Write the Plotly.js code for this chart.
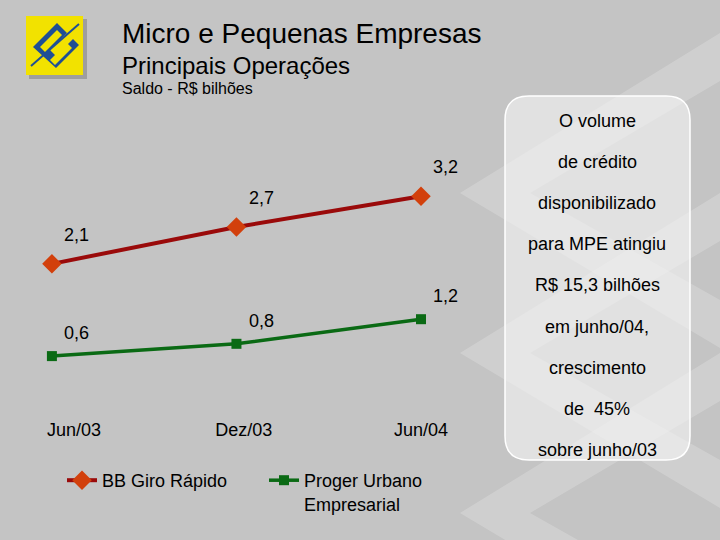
<!DOCTYPE html>
<html>
<head>
<meta charset="utf-8">
<script src="https://cdn.plot.ly/plotly-3.0.1.min.js"></script>
<style>html,body{margin:0;padding:0;background:#c4c4c4;}#chart{width:720px;height:540px;}</style>
</head>
<body>
<div id="chart"></div>
<script>
// ---- data ----
const categories = ["Jun/03", "Dez/03", "Jun/04"];
const seriesNames = ["BB Giro Rápido", "Proger Urbano<br>Empresarial"];
const giroRapido = [2.1, 2.7, 3.2];
const progerUrbano = [0.6, 0.8, 1.2];
const boxLines = ["O volume", "de crédito", "disponibilizado", "para MPE atingiu",
  "R$ 15,3 bilhões", "em junho/04,", "crescimento", "de \u00a045%", "sobre junho/03"];

// ---- layout geometry (pixels) ----
const L = 15, R = 220, T = 150, B = 123, W = 720 - L - R, H = 540 - T - B;
const PX = p => (p - L) / W;
const PY = p => (T + H - p) / H;
const FONT = "Arial, Liberation Sans, sans-serif";
const xIdx = categories.map((c, i) => i);
const tickPos = [0.12, 1.04, 2];

const fmt = v => v.toFixed(1).replace(".", ",");

function poly(pts, fill) {
  return {type: "path", xref: "paper", yref: "paper", layer: "below",
    path: "M" + pts.map(p => PX(p[0]) + "," + PY(p[1])).join(" L") + " Z",
    fillcolor: fill, line: {width: 0}};
}
function chevron(tipY, fill) {
  const tx = 460, th = 70;
  return poly([[tx, tipY], [720, tipY - 160], [720, tipY - 160 + 48], [tx + th, tipY],
    [720, tipY + 155 - 48], [720, tipY + 155]], fill);
}
function roundRect(x0, y0, x1, y1, r) {
  const P = (x, y) => PX(x) + "," + PY(y);
  return "M" + P(x0 + r, y0) + " L" + P(x1 - r, y0) + " Q" + P(x1, y0) + " " + P(x1, y0 + r) +
    " L" + P(x1, y1 - r) + " Q" + P(x1, y1) + " " + P(x1 - r, y1) +
    " L" + P(x0 + r, y1) + " Q" + P(x0, y1) + " " + P(x0, y1 - r) +
    " L" + P(x0, y0 + r) + " Q" + P(x0, y0) + " " + P(x0 + r, y0) + " Z";
}

const band = "rgba(255,255,255,0.2)";
const shapes = [
  // background watermark chevrons
  chevron(193, band),
  chevron(353, band),
  chevron(513, band),
  // logo shadow + yellow square
  poly([[29,19],[87,19],[87,79],[29,79]], "rgba(90,90,90,0.35)"),
  poly([[26,16],[83,16],[83,75],[26,75]], "#f2e200"),
  // logo blue pattern
  poly([[33,47],[57,23],[67,33],[50,50],[56,56],[73,39],[79,45],[56,68]], "#1f4f95"),
  poly([[40,47],[57,30],[62,35],[45,52]], "#f2e200"),
  poly([[50,60],[67,43],[72,48],[55,65]], "#f2e200"),
  {type: "line", xref: "paper", yref: "paper", layer: "below",
    x0: PX(31), y0: PY(66), x1: PX(79), y1: PY(24), line: {color: "#1f4f95", width: 2}},
  // text box
  {type: "path", xref: "paper", yref: "paper", layer: "below",
    path: roundRect(505, 96, 690, 460, 24),
    fillcolor: "rgba(245,245,245,0.6)", line: {color: "#ffffff", width: 1.5}}
];

const annotations = [
  {xref: "paper", yref: "paper", x: PX(120), y: PY(33), xanchor: "left", yanchor: "middle",
    text: "Micro e Pequenas Empresas", showarrow: false, font: {family: FONT, size: 28, color: "#000"}},
  {xref: "paper", yref: "paper", x: PX(120), y: PY(65), xanchor: "left", yanchor: "middle",
    text: "Principais Operações", showarrow: false, font: {family: FONT, size: 24, color: "#000"}},
  {xref: "paper", yref: "paper", x: PX(120), y: PY(88), xanchor: "left", yanchor: "middle",
    text: "Saldo - R$ bilhões", showarrow: false, font: {family: FONT, size: 16, color: "#000"}}
];
boxLines.forEach((t, i) => annotations.push({
  xref: "paper", yref: "paper", x: PX(597), y: PY(121 + i * 41.1), xanchor: "center", yanchor: "middle",
  text: t, showarrow: false, font: {family: FONT, size: 18, color: "#000"}}));
giroRapido.forEach((v, i) => annotations.push({
  x: xIdx[i], y: v, text: fmt(v), showarrow: false, xshift: 25, yshift: 29,
  font: {family: FONT, size: 18, color: "#000"}}));
progerUrbano.forEach((v, i) => annotations.push({
  x: xIdx[i], y: v, text: fmt(v), showarrow: false, xshift: 25, yshift: 23,
  font: {family: FONT, size: 18, color: "#000"}}));

const traces = [
  {x: xIdx, y: giroRapido, name: seriesNames[0], type: "scatter", mode: "lines+markers",
    line: {color: "#9a0a0a", width: 4},
    marker: {symbol: "diamond", size: 15, color: "#d2400c"}},
  {x: xIdx, y: progerUrbano, name: seriesNames[1], type: "scatter", mode: "lines+markers",
    line: {color: "#0a6a14", width: 3.5},
    marker: {symbol: "square", size: 10, color: "#0a6a14"}}
];

const layout = {
  width: 720, height: 540,
  margin: {l: L, r: R, t: T, b: B, pad: 0},
  paper_bgcolor: "#c4c4c4", plot_bgcolor: "rgba(0,0,0,0)",
  separators: ", ",
  showlegend: true,
  font: {family: FONT, size: 18, color: "#000"},
  xaxis: {range: [-0.2, 2 + 79 / 184.5], tickvals: tickPos, ticktext: categories,
    showgrid: false, zeroline: false, showline: false, ticks: "", fixedrange: true,
    tickfont: {family: FONT, size: 18, color: "#000"}},
  yaxis: {range: [-0.390, 3.951], showgrid: false, zeroline: false, showline: false,
    showticklabels: false, ticks: "", fixedrange: true},
  legend: {orientation: "h", x: PX(62), y: PY(462), xanchor: "left", yanchor: "top",
    bgcolor: "rgba(0,0,0,0)", font: {family: FONT, size: 18, color: "#000"},
    entrywidth: 157, entrywidthmode: "pixels", valign: "top"},
  shapes: shapes,
  annotations: annotations
};

Plotly.newPlot("chart", traces, layout, {displayModeBar: false, staticPlot: true});
</script>
</body>
</html>
